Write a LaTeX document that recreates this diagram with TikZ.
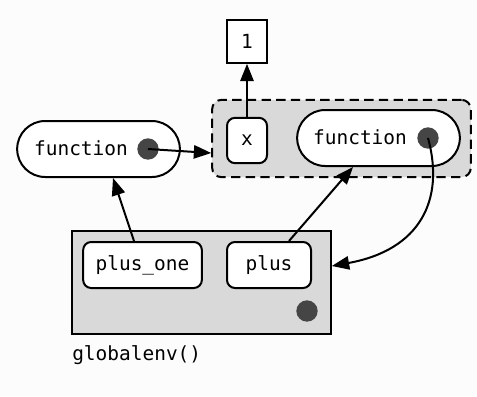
\documentclass[tikz,border=0pt]{standalone}
\usepackage{fontspec}
\setmonofont{DejaVu Sans Mono}
\usepackage{tikz}
\usetikzlibrary{arrows.meta, positioning, calc}

\definecolor{envgray}{HTML}{D9D9D9}
\definecolor{dotgray}{HTML}{454545}
\definecolor{bggray}{HTML}{FCFCFC}

\tikzset{
    binding/.style={draw, fill=white, rounded corners=6pt, line width=1.5pt, inner sep=0pt},
    fnpill/.style={draw, fill=white, rounded corners=21pt, line width=1.5pt, minimum width=122pt, minimum height=42pt},
    envdot/.style={circle, fill=dotgray, minimum size=16pt, inner sep=0pt},
    link/.style={line width=1.5pt, -{Triangle[length=13pt,width=10pt]}}
}

\begin{document}
\begin{tikzpicture}[x=0.75pt, y=-0.75pt, font=\ttfamily\fontsize{14.6}{16}\selectfont]
    \useasboundingbox (0,0) rectangle (477,396);
    \fill[bggray] (0,0) rectangle (477,396);

    % execution environment
    \node[draw, dash pattern=on 7pt off 4pt, fill=envgray, rounded corners=7pt, line width=1.5pt,
          minimum width=194pt, minimum height=58pt] (execenv) at (341.5,138.5) {};
    \node[binding, minimum width=30pt, minimum height=34pt] (x) at (247,140.5) {x};
    \node[fnpill] (fnR) at (378.5,138) {};
    \node (fnRtext) at (360,137) {function};
    \node[envdot] (dotR) at (428,138) {};

    % value of x
    \node[draw, fill=white, line width=1.5pt, minimum width=30pt, minimum height=32pt] (one) at (247,41.5) {1};

    % function made by plus()
    \node[fnpill] (fnL) at (98.5,149) {};
    \node (fnLtext) at (81,148) {function};
    \node[envdot] (dotL) at (148,149) {};

    % global environment
    \node[draw, fill=envgray, line width=1.5pt, minimum width=194pt, minimum height=77pt] (global) at (201.5,282.5) {};
    \node[binding, minimum width=89pt, minimum height=34.5pt] (plusone) at (142.5,265) {plus\_one};
    \node[binding, minimum width=63pt, minimum height=34.5pt] (plus) at (269,265) {plus};
    \node[envdot] (dotG) at (307,311) {};
    \node[anchor=north west, inner sep=0pt] (globallabel) at (72,345) {globalenv()};

    \draw[link] (x.north) -- (one.south);
    \draw[link] (dotL.center) -- (execenv.west |- 0,153);
    \draw[link] (plusone.north -| 134,0) -- (fnL.south -| 113,0);
    \draw[link] (plus.north -| 289,0) -- (fnR.south -| 353,0);
    \draw[link] (dotR.center) .. controls (445,200) and (420,250) .. (global.east |- 0,266);
\end{tikzpicture}
\end{document}
